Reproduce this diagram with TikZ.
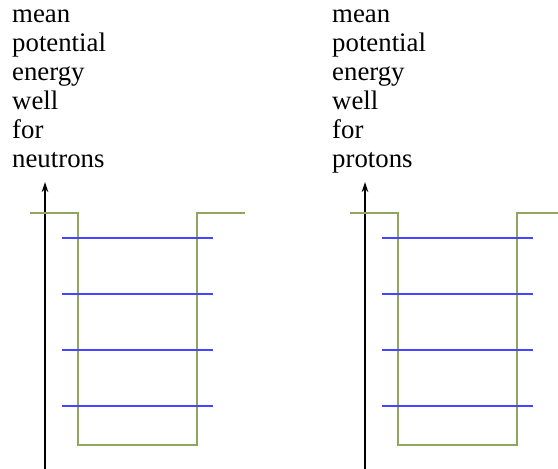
\documentclass[tikz,border=0pt]{standalone}
\usepackage{fontspec}
\setmainfont{Liberation Serif}
\usetikzlibrary{arrows.meta}
\definecolor{wellgreen}{RGB}{145,165,95}
\definecolor{levelblue}{RGB}{70,70,255}
\begin{document}
\begin{tikzpicture}[x=1pt,y=-1pt,
  lbl/.style={anchor=base west,inner sep=0pt,align=left,font=\fontsize{26.8}{29}\selectfont},
  axis/.style={line width=1.3pt,-{Stealth[length=10pt,width=6.5pt]}},
  wellline/.style={wellgreen,line width=1.6pt},
  level/.style={levelblue,line width=1.6pt}]
\useasboundingbox (0,0) rectangle (558,469);
% left panel
\node[lbl] (tn) at (12,167) {mean\\potential\\energy\\well\\for\\neutrons};
\coordinate (an0) at (45,469);
\coordinate (an1) at (45,182);
\draw[axis] (an0) -- (an1);
\draw[wellline] (30,213) -- (78,213) -- (78,445) -- (197,445) -- (197,213) -- (245,213);
\foreach \y in {238,294,350,406}{\draw[level] (62,\y) -- (213,\y);}
% right panel
\node[lbl] (tp) at (332,167) {mean\\potential\\energy\\well\\for\\protons};
\coordinate (ap0) at (365,469);
\coordinate (ap1) at (365,182);
\draw[axis] (ap0) -- (ap1);
\draw[wellline] (350,213) -- (398,213) -- (398,445) -- (517,445) -- (517,213) -- (558,213);
\foreach \y in {238,294,350,406}{\draw[level] (382,\y) -- (533,\y);}
\end{tikzpicture}
\end{document}
